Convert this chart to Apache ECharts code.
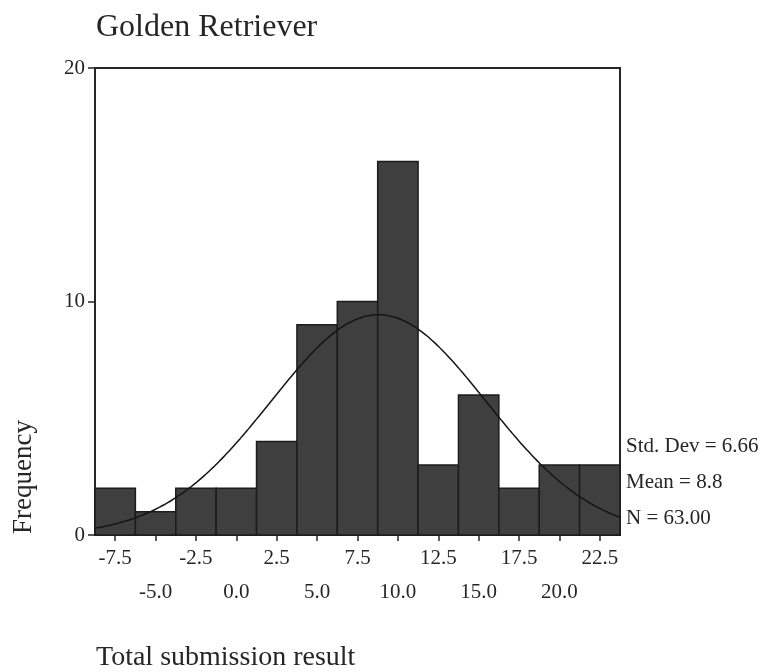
<!DOCTYPE html>
<html>
<head>
<meta charset="utf-8">
<title>Golden Retriever</title>
<script src="https://cdn.jsdelivr.net/npm/echarts@6/dist/echarts.min.js"></script>
<style>
  html, body { margin: 0; padding: 0; background: #ffffff; }
  #chart { width: 769px; height: 672px; }
</style>
</head>
<body>
<div id="chart"></div>
<script>
// Histogram bins (centre of each 2.5-wide bin) and their counts
var BIN_CENTERS = [-7.5, -5.0, -2.5, 0.0, 2.5, 5.0, 7.5, 10.0, 12.5, 15.0, 17.5, 20.0, 22.5];
var FREQUENCIES = [2, 1, 2, 2, 4, 9, 10, 16, 3, 6, 2, 3, 3];
var BIN_WIDTH = 2.5;

// Tick labels, split into the two staggered rows under the axis
var X_LABELS_UPPER = [-7.5, -2.5, 2.5, 7.5, 12.5, 17.5, 22.5];
var X_LABELS_LOWER = [-5.0, 0.0, 5.0, 10.0, 15.0, 20.0];
var Y_TICKS = [0, 10, 20];

// Summary statistics printed beside the plot
var STD_DEV = 6.66;
var MEAN = 8.8;
var N = 63;

var SERIF = '"Liberation Serif", "DejaVu Serif", serif';
var INK = '#262626';

var xMin = BIN_CENTERS[0] - BIN_WIDTH / 2;
var xMax = BIN_CENTERS[BIN_CENTERS.length - 1] + BIN_WIDTH / 2;

// Fitted normal curve, scaled to counts per bin
var curve = [];
var steps = 130;
for (var i = 0; i <= steps; i++) {
  var x = xMin + (xMax - xMin) * i / steps;
  var z = (x - MEAN) / STD_DEV;
  var y = N * BIN_WIDTH / (STD_DEV * Math.sqrt(2 * Math.PI)) * Math.exp(-0.5 * z * z);
  curve.push([x, y]);
}

var bars = BIN_CENTERS.map(function (c, k) { return [c, FREQUENCIES[k]]; });

function fmt(v) { return Number(v).toFixed(1); }

var chart = echarts.init(document.getElementById('chart'), null, { renderer: 'canvas' });

chart.setOption({
  backgroundColor: '#ffffff',
  animation: false,
  grid: {
    left: 95, right: 149, top: 68, bottom: 137,
    show: true, borderColor: INK, borderWidth: 2, backgroundColor: 'transparent'
  },
  xAxis: [
    {
      type: 'value', min: xMin, max: xMax,
      axisLine: { show: true, onZero: false, lineStyle: { color: INK, width: 2 } },
      axisTick: { show: true, customValues: BIN_CENTERS, length: 6, lineStyle: { color: INK, width: 1.5 } },
      axisLabel: {
        customValues: X_LABELS_UPPER, formatter: fmt, margin: 13,
        fontFamily: SERIF, fontSize: 21, color: INK
      },
      splitLine: { show: false }
    },
    {
      type: 'value', min: xMin, max: xMax, position: 'bottom', gridIndex: 0,
      axisLine: { show: false, onZero: false },
      axisTick: { show: false },
      axisLabel: {
        customValues: X_LABELS_LOWER, formatter: fmt, margin: 47,
        fontFamily: SERIF, fontSize: 21, color: INK
      },
      splitLine: { show: false }
    }
  ],
  yAxis: {
    type: 'value', min: 0, max: 20, interval: 10,
    axisLine: { show: true, onZero: false, lineStyle: { color: INK, width: 2 } },
    axisTick: { show: true, length: 7, lineStyle: { color: INK, width: 1.5 } },
    axisLabel: {
      customValues: Y_TICKS, margin: 10,
      fontFamily: SERIF, fontSize: 21, color: INK
    },
    splitLine: { show: false }
  },
  series: [
    {
      type: 'custom',
      xAxisIndex: 0,
      data: bars,
      renderItem: function (params, api) {
        var c = api.value(0), v = api.value(1);
        var p0 = api.coord([c - BIN_WIDTH / 2, v]);
        var p1 = api.coord([c + BIN_WIDTH / 2, 0]);
        return {
          type: 'rect',
          shape: { x: p0[0], y: p0[1], width: p1[0] - p0[0], height: p1[1] - p0[1] },
          style: { fill: '#3f3f3f', stroke: '#1c1c1c', lineWidth: 1.5 }
        };
      },
      z: 2
    },
    {
      type: 'line',
      xAxisIndex: 0,
      data: curve,
      smooth: true,
      showSymbol: false,
      lineStyle: { color: '#151515', width: 1.5 },
      z: 3
    }
  ],
  graphic: [
    {
      type: 'text', x: 96, y: 28,
      style: { text: 'Golden Retriever', font: '32px ' + SERIF, fill: INK, verticalAlign: 'middle' }
    },
    {
      type: 'text', x: 24, y: 477, rotation: Math.PI / 2,
      style: { text: 'Frequency', font: '27px ' + SERIF, fill: INK, align: 'center', verticalAlign: 'middle' }
    },
    {
      type: 'text', x: 96, y: 658,
      style: { text: 'Total submission result', font: '28px ' + SERIF, fill: INK, verticalAlign: 'middle' }
    },
    {
      type: 'text', x: 626, y: 446,
      style: { text: 'Std. Dev = ' + STD_DEV.toFixed(2), font: '21px ' + SERIF, fill: INK, verticalAlign: 'middle' }
    },
    {
      type: 'text', x: 626, y: 482,
      style: { text: 'Mean = ' + MEAN.toFixed(1), font: '21px ' + SERIF, fill: INK, verticalAlign: 'middle' }
    },
    {
      type: 'text', x: 626, y: 518,
      style: { text: 'N = ' + N.toFixed(2), font: '21px ' + SERIF, fill: INK, verticalAlign: 'middle' }
    }
  ]
});
</script>
</body>
</html>
